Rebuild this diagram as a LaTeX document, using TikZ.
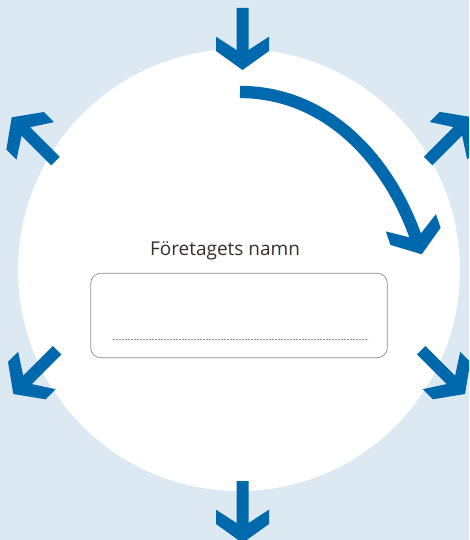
\documentclass[tikz,border=0pt]{standalone}
\usepackage{fontspec}
\setmainfont{Open Sans}
\definecolor{bgblue}{HTML}{DCE9F2}
\definecolor{arrowblue}{HTML}{0068AC}
\definecolor{txtbrown}{HTML}{3A2E28}
\definecolor{boxgray}{HTML}{8C8C8C}
\tikzset{
  blockarrow/.pic={\fill[arrowblue] (0,0) -- (-19,26.5) -- (-33.3,26.5) -- (-20,6) -- (-62,6) -- (-62,-6) -- (-20,-6) -- (-33.3,-26.5) -- (-19,-26.5) -- cycle;},
  arrowhead/.pic={\fill[arrowblue] (0,0) -- (-19,26.5) -- (-33.3,26.5) -- (-20,6) -- (-20,-6) -- (-33.3,-26.5) -- (-19,-26.5) -- cycle;},
  titletext/.style={font=\fontsize{19}{22}\selectfont, text=txtbrown, inner sep=0pt, anchor=base},
  namebox/.style={draw=boxgray, rounded corners=10pt, line width=0.7pt, minimum width=296.6pt, minimum height=84.4pt, inner sep=0pt},
  dotline/.style={boxgray, dash pattern=on 1.6pt off 1.4pt, line width=0.6pt},
}
\begin{document}
\begin{tikzpicture}[x=1pt,y=-1pt]
\useasboundingbox (0,0) rectangle (469,540);
\clip (0,0) rectangle (469,540);
\fill[bgblue] (0,0) rectangle (469,540);
\node[circle, fill=white, minimum size=442pt, inner sep=0pt] (disc) at (239,270) {};
% straight arrows
\coordinate (tipTop) at (242.5,70);
\coordinate (tipBottom) at (242.5,543);
\coordinate (tipTL) at (11.7,117.3);
\coordinate (tipTR) at (472,117.2);
\coordinate (tipBL) at (13.3,394);
\coordinate (tipBR) at (465,394);
\pic[rotate=-90] at (tipTop) {blockarrow};
\pic[rotate=-90] at (tipBottom) {blockarrow};
\pic[rotate=135] at (tipTL) {blockarrow};
\pic[rotate=45] at (tipTR) {blockarrow};
\pic[rotate=225] at (tipBL) {blockarrow};
\pic[rotate=-45] at (tipBR) {blockarrow};
% curved arrow
\coordinate (cStart) at (240,92);
\coordinate (cEnd) at (416.8,240.1);
\coordinate (cTip) at (421.7,254.3);
\draw[arrowblue, line width=12.3pt] (cStart) .. controls (326,92) and (388.8,158.7) .. (cEnd);
\pic[rotate=-71] at (cTip) {arrowhead};
% title and box
\node[titletext] (title) at (225,255) {Företagets namn};
\node[namebox] (box) at (239,315.5) {};
\coordinate (dotL) at (113.3,339);
\coordinate (dotR) at (368.3,339);
\draw[dotline] (dotL) -- (dotR);
\end{tikzpicture}
\end{document}
